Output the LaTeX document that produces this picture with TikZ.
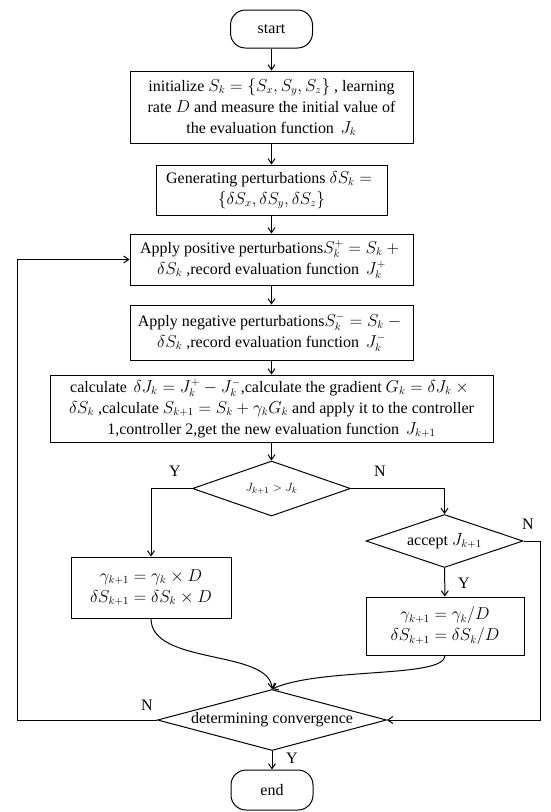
\documentclass[tikz,border=0pt]{standalone}
\usepackage{fontspec}
\setmainfont{Liberation Serif}
\usepackage{tikz}
\usetikzlibrary{shapes.geometric,arrows.meta,positioning}

\begin{document}
\begin{tikzpicture}[
        x=1pt, y=1pt,
        font=\fontsize{16}{21}\selectfont,
        line width=1pt,
        terminal/.style={rectangle, rounded corners=15pt, draw=black, minimum width=82pt, minimum height=38pt},
        process/.style={rectangle, draw=black, align=center, inner sep=3pt},
        decision/.style={diamond, draw=black, align=center, inner sep=0pt},
        arrow/.style={-{Straight Barb[length=5pt,width=7pt]}},
        lbl/.style={inner sep=0pt}
    ]
    \useasboundingbox (0,0) rectangle (550,-812);

    % Start
    \node[terminal] (start) at (271.5,-29) {start};

    % Main column
    \node[process, minimum width=283pt, minimum height=72pt, below=22pt of start] (init)
        {initialize $S_k=\{S_x,S_y,S_z\}$ , learning\\ rate $D$ and measure the initial value of\\ the evaluation function \,$J_k$};
    \node[process, minimum width=231pt, minimum height=50pt, below=21pt of init] (gen)
        {Generating perturbations $\delta S_k={}$\\ $\{\delta S_x,\delta S_y,\delta S_z\}$};
    \node[process, minimum width=283pt, minimum height=51pt, below=18pt of gen] (pos)
        {Apply positive perturbations$S_k^+=S_k+{}$\\ $\delta S_k$ ,record evaluation function \,$J_k^+$};
    \node[process, minimum width=283pt, minimum height=55pt, below=19pt of pos] (neg)
        {Apply negative perturbations$S_k^-=S_k-{}$\\ $\delta S_k$ ,record evaluation function \,$J_k^-$};
    \node[process, minimum width=443pt, minimum height=67pt, below=14pt of neg] (calc)
        {calculate \,$\delta J_k=J_k^+-J_k^-$,calculate the gradient $G_k=\delta J_k\times{}$\\ $\delta S_k$ ,calculate $S_{k+1}=S_k+\gamma_k G_k$ and apply it to the controller\\ 1,controller 2,get the new evaluation function \,$J_{k+1}$};
    \node[decision, minimum width=158pt, minimum height=55pt, aspect=2.9, below=18pt of calc, font=\fontsize{12.5}{14}\selectfont] (cmp)
        {$J_{k+1}>J_k$};

    % Branches
    \node[process, minimum width=160pt, minimum height=61pt] (inc) at (151,-587.5)
        {$\gamma_{k+1}=\gamma_k\times D$\\ $\delta S_{k+1}=\delta S_k\times D$};
    \node[decision, minimum width=157pt, minimum height=53pt, aspect=3] (acc) at (444.5,-541)
        {accept $J_{k+1}$};
    \node[process, minimum width=158pt, minimum height=58pt] (dec) at (445,-626)
        {$\gamma_{k+1}=\gamma_k/D$\\ $\delta S_{k+1}=\delta S_k/D$};
    \node[decision, minimum width=229pt, minimum height=61pt, aspect=3.75] (conv) at (272,-720)
        {determining convergence};
    \node[terminal, minimum height=40pt] (stop) at (272,-790) {end};

    % Loop corners
    \coordinate (lback) at (17,-720);
    \coordinate (rback) at (540,-541);

    % Arrows
    \draw[arrow] (start) -- (init);
    \draw[arrow] (init) -- (gen);
    \draw[arrow] (gen) -- (pos);
    \draw[arrow] (pos) -- (neg);
    \draw[arrow] (neg) -- (calc);
    \draw[arrow] (calc) -- (cmp);
    \draw[arrow] (cmp.west) -| (inc.north);
    \draw[arrow] (cmp.east) -| (acc.north);
    \draw[arrow] (acc) -- (dec);
    \draw[arrow] (acc.east) -- (rback) |- (conv.east);
    \draw[arrow] (inc.south) .. controls +(0,-47) and +(-3,40) .. (conv.north);
    \draw[arrow] (dec.south) .. controls +(0,-23) and +(49,22) .. (conv.north);
    \draw[arrow] (conv.west) -- (lback) |- (pos.west);
    \draw[arrow] (conv) -- (stop);

    % Labels
    \node[lbl] (ycmp) at (175,-471) {Y};
    \node[lbl] (ncmp) at (380,-471) {N};
    \node[lbl] (nacc) at (528,-524) {N};
    \node[lbl] (yacc) at (464,-583) {Y};
    \node[lbl] (nconv) at (147,-705) {N};
    \node[lbl] (yconv) at (292,-758) {Y};

\end{tikzpicture}
\end{document}
